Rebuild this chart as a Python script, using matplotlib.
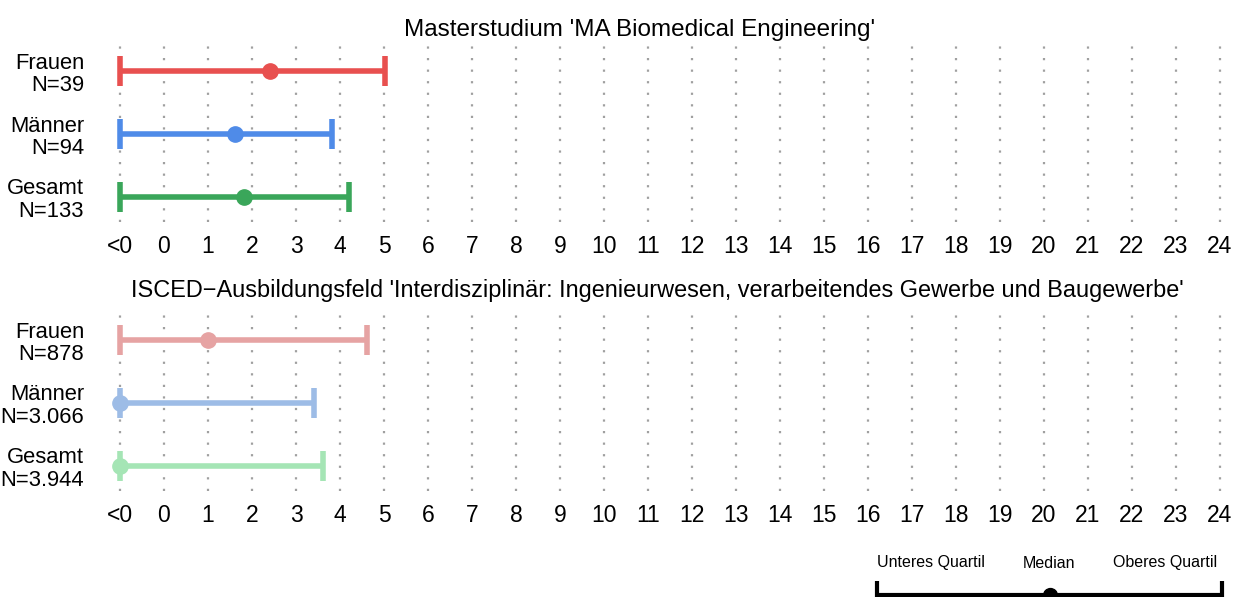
import numpy as np
import matplotlib.pyplot as plt

plt.rcParams['font.family'] = ['Liberation Sans', 'DejaVu Sans']

# data
groups = ["Frauen", "Männer", "Gesamt"]
tick_vals = list(range(-1, 25))
tick_labels = ["<0"] + [str(v) for v in range(0, 25)]

title1 = "Masterstudium 'MA Biomedical Engineering'"
n1 = ["39", "94", "133"]
lo1 = [-1, -1, -1]
med1 = [2.42, 1.62, 1.82]
hi1 = [5.02, 3.81, 4.21]

title2 = "ISCED\u2212Ausbildungsfeld 'Interdisziplinär: Ingenieurwesen, verarbeitendes Gewerbe und Baugewerbe'"
n2 = ["878", "3.066", "3.944"]
lo2 = [-1, -1, -1]
med2 = [1.01, -1, -1]
hi2 = [4.61, 3.41, 3.61]

cols1 = ["#E8504F", "#4F8BE8", "#3AA65A"]
cols2 = ["#E6A3A3", "#9DBCE6", "#A5E5B5"]

legend_labels = ["Unteres Quartil", "Median", "Oberes Quartil"]

W, H = 1236, 597
fig = plt.figure(figsize=(W / 100, H / 100), dpi=100)


def px_axes(l, t, r, b):
    return fig.add_axes([l / W, 1 - b / H, (r - l) / W, (b - t) / H])


def panel(top, lo, med, hi, ns, cols, title, title_x, title_y, title_fs):
    ax = px_axes(98, top, 1233.2, top + 176)
    ax.set_xlim(-1.5, 24.3)
    ax.set_ylim(2.4, -0.4)
    for i in range(3):
        ax.errorbar(med[i], i, xerr=[[med[i] - lo[i]], [hi[i] - med[i]]],
                    fmt='o', color=cols[i], ms=11, elinewidth=4,
                    capsize=11, capthick=4, zorder=3)
    ax.set_xticks(tick_vals)
    ax.set_xticklabels(tick_labels, fontsize=16.5)
    ax.set_yticks(range(3))
    ax.set_yticklabels([f"{g}\nN={n}" for g, n in zip(groups, ns)],
                       fontsize=15.8, linespacing=1.1)
    ax.tick_params(length=0)
    ax.tick_params(axis='x', pad=9)
    ax.tick_params(axis='y', pad=10)
    ax.grid(axis='x', color='#a0a0a0', linestyle=(0, (1, 4.2)), linewidth=1.6)
    ax.set_axisbelow(True)
    for s in ax.spines.values():
        s.set_visible(False)
    fig.text(title_x / W, 1 - title_y / H, title, ha='center', va='center',
             fontsize=title_fs)
    return ax


panel(46, lo1, med1, hi1, n1, cols1, title1, 640, 30, 17.5)
panel(315, lo2, med2, hi2, n2, cols2, title2, 657, 290, 16.9)

# legend
leg = px_axes(877, 540, 1222, 595)
leg.set_xlim(0, 1)
leg.set_ylim(0, 1)
leg.axis('off')
leg.errorbar(0.5, 0, xerr=0.5, fmt='o', color='black', ms=10,
             elinewidth=3, capsize=10, capthick=3, clip_on=False)
for xpos, lab in zip([0.155, 0.5, 0.835], legend_labels):
    leg.text(xpos, 0.5, lab, ha='center', va='baseline', fontsize=11.5)

fig.savefig("out.png", dpi=100)
